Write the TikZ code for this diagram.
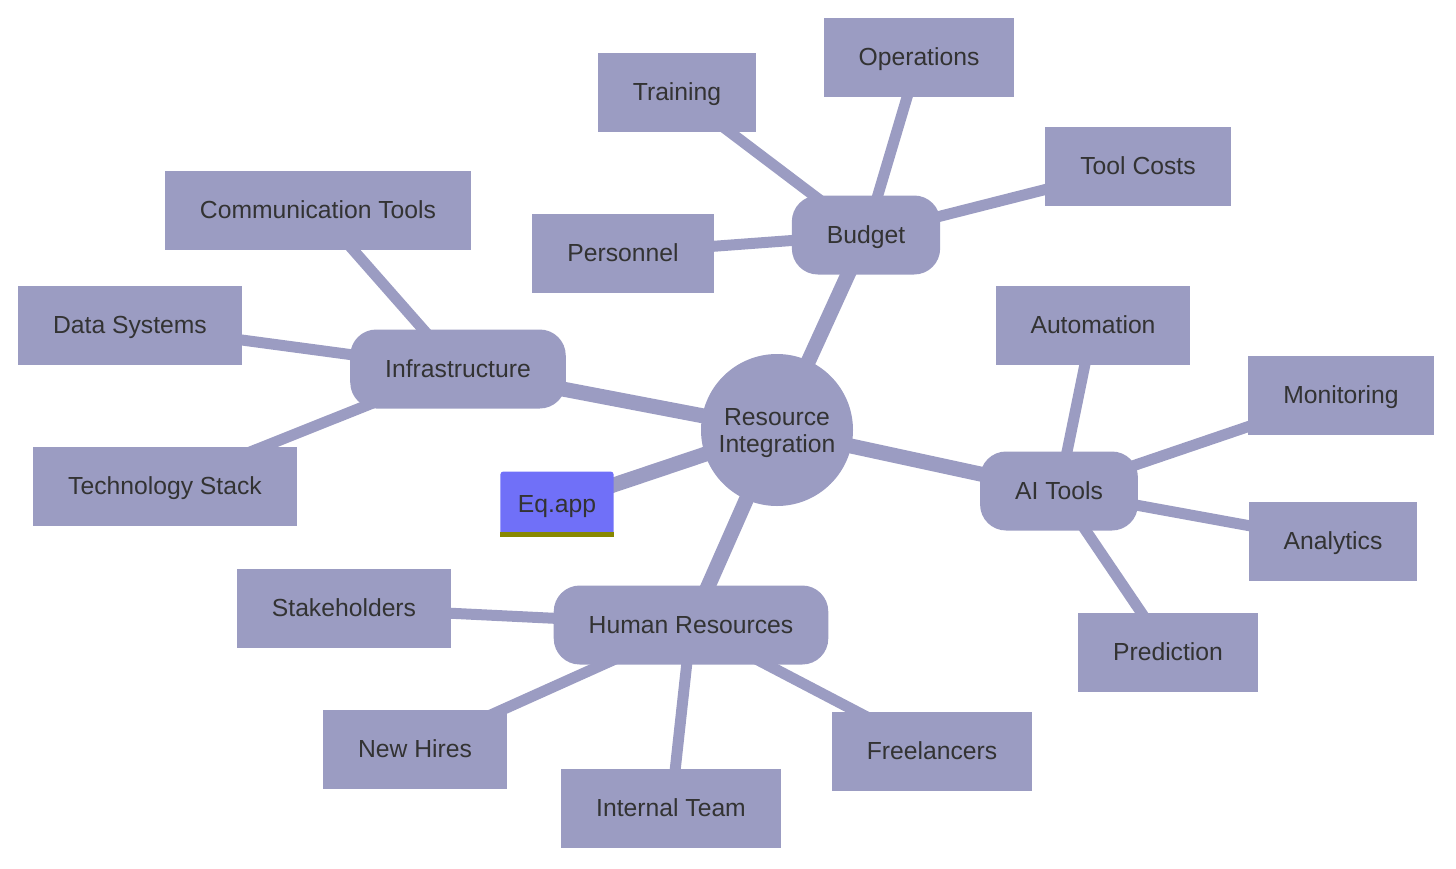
\documentclass[tikz,border=0pt]{standalone}
\usepackage{fontspec}
\setmainfont{Liberation Sans}
\usetikzlibrary{backgrounds}
\definecolor{mmfill}{RGB}{155,156,194}
\definecolor{mmtext}{RGB}{51,51,51}
\definecolor{eqblue}{RGB}{112,112,248}
\definecolor{eqbar}{RGB}{136,136,0}
\begin{document}
\begin{tikzpicture}[x=1pt,y=-1pt,
    font=\fontsize{24.7}{27}\selectfont,
    leaf/.style={fill=mmfill, text=mmtext, minimum height=79pt, inner xsep=35pt, text height=17.7pt, text depth=0pt},
    branch/.style={leaf, rounded corners=26pt},
    root/.style={circle, fill=mmfill, text=mmtext, minimum size=152pt, inner sep=0pt, align=center, text depth=0pt},
    trunk/.style={draw=mmfill, line width=15pt},
    twig/.style={draw=mmfill, line width=11pt}]
        \useasboundingbox (0,0) rectangle (1456,868);
        %radice
        \node[root] (ri) at (777,430) {Resource\\Integration};
        %rami
        \node[branch] (budget) at (866,235) {Budget};
        \node[branch] (infra) at (458,369) {Infrastructure};
        \node[branch] (ai) at (1059,491) {AI Tools};
        \node[branch] (hr) at (691,625) {Human Resources};
        \node[fill=eqblue, text=mmtext, minimum height=65pt, inner xsep=17.5pt, text height=17.7pt, text depth=0pt, rounded corners=3pt] (eq) at (557,504) {Eq.app};
        \fill[eqbar] (eq.south west) rectangle ([yshift=5pt]eq.south east);
        %foglie budget
        \node[leaf] (ops) at (919,57) {Operations};
        \node[leaf] (train) at (677,92) {Training};
        \node[leaf] (tool) at (1138,166) {Tool Costs};
        \node[leaf] (pers) at (623,253) {Personnel};
        %foglie infrastructure
        \node[leaf] (comm) at (318,210) {Communication Tools};
        \node[leaf] (data) at (130,325) {Data Systems};
        \node[leaf] (tech) at (165,486) {Technology Stack};
        %foglie ai tools
        \node[leaf] (auto) at (1093,325) {Automation};
        \node[leaf] (moni) at (1341,395) {Monitoring};
        \node[leaf] (anal) at (1333,541) {Analytics};
        \node[leaf] (pred) at (1168,652) {Prediction};
        %foglie human resources
        \node[leaf] (stake) at (344,608) {Stakeholders};
        \node[leaf] (hire) at (415,749) {New Hires};
        \node[leaf] (team) at (671,808) {Internal Team};
        \node[leaf] (free) at (932,751) {Freelancers};
        %collegamenti
        \begin{pgfonlayer}{background}
            \foreach \b in {budget,infra,ai,hr,eq}
                \draw[trunk] (ri.center) -- (\b.center);
            \foreach \l in {ops,train,tool,pers}
                \draw[twig] (budget.center) -- (\l.center);
            \foreach \l in {comm,data,tech}
                \draw[twig] (infra.center) -- (\l.center);
            \foreach \l in {auto,moni,anal,pred}
                \draw[twig] (ai.center) -- (\l.center);
            \foreach \l in {stake,hire,team,free}
                \draw[twig] (hr.center) -- (\l.center);
        \end{pgfonlayer}
    \end{tikzpicture}
\end{document}
